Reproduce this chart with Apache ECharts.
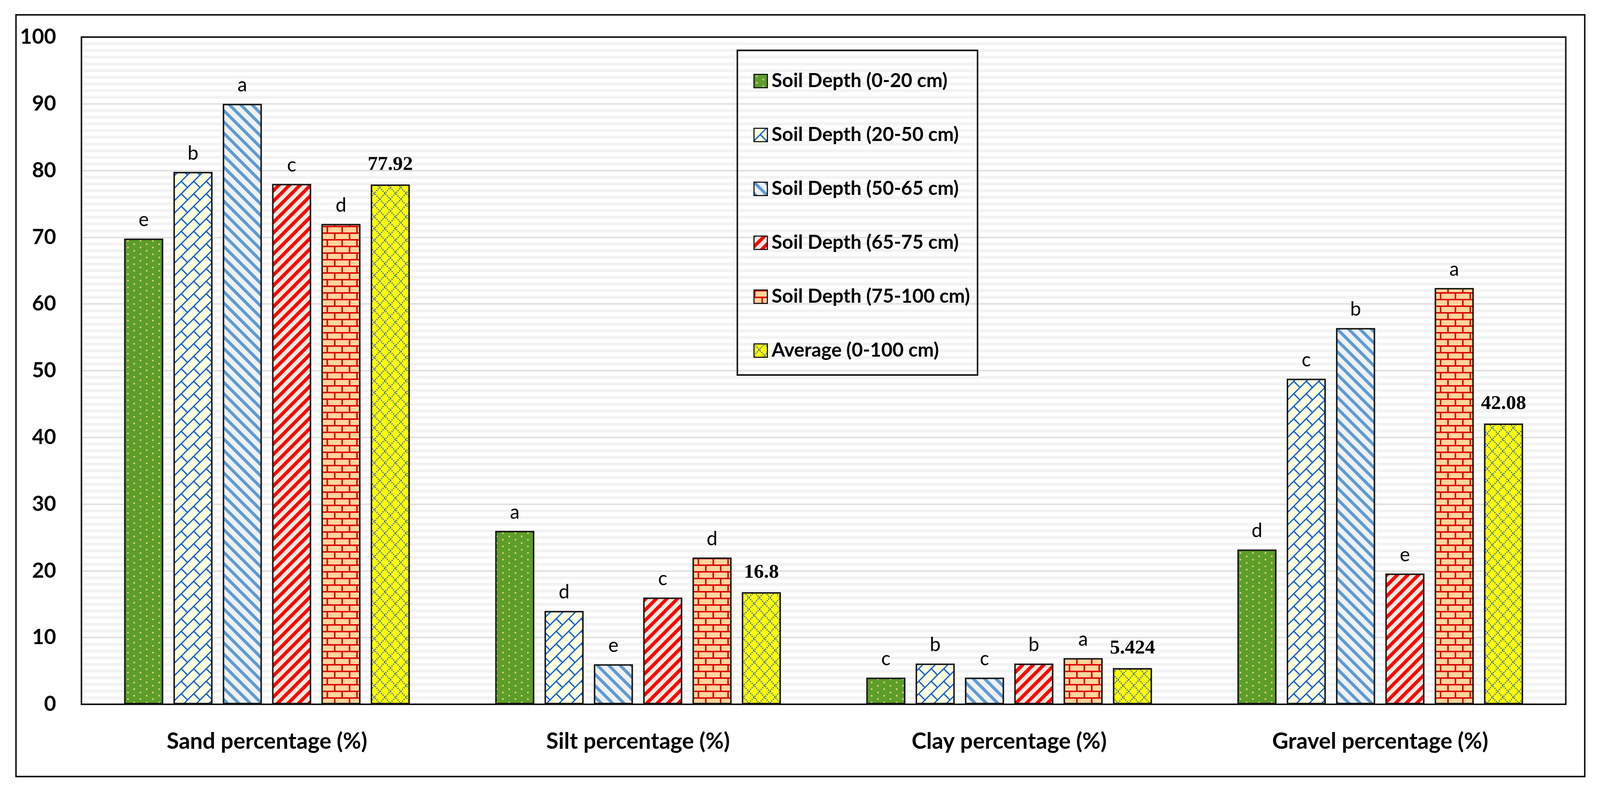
<!DOCTYPE html>
<html>
<head>
<meta charset="utf-8">
<script src="https://cdn.jsdelivr.net/npm/echarts@6/dist/echarts.min.js"></script>
<style>
html,body{margin:0;padding:0;background:#fff;overflow:hidden;}
#chart{position:absolute;left:0;top:0;}
</style>
</head>
<body>
<div id="chart"></div>
<script>
// ---- data ----
const categories = ['Sand percentage (%)', 'Silt percentage (%)', 'Clay percentage (%)', 'Gravel percentage (%)'];
const seriesNames = ['Soil Depth (0-20 cm)', 'Soil Depth (20-50 cm)', 'Soil Depth (50-65 cm)', 'Soil Depth (65-75 cm)', 'Soil Depth (75-100 cm)', 'Average (0-100 cm)'];
const depth0_20   = [69.8, 26, 4.0, 23.2];
const depth20_50  = [79.8, 14, 6.1, 48.8];
const depth50_65  = [90.0, 6, 4.0, 56.4];
const depth65_75  = [78.0, 16, 6.1, 19.6];
const depth75_100 = [72.0, 22, 6.92, 62.4];
const average     = [77.92, 16.8, 5.424, 42.08];
const letters0_20   = ['e', 'a', 'c', 'd'];
const letters20_50  = ['b', 'd', 'b', 'c'];
const letters50_65  = ['a', 'e', 'c', 'b'];
const letters65_75  = ['c', 'c', 'b', 'e'];
const letters75_100 = ['d', 'd', 'a', 'a'];
const averageLabels = ['77.92', '16.8', '5.424', '42.08'];
const yTicks = [0, 10, 20, 30, 40, 50, 60, 70, 80, 90, 100];

// ---- layout scaling to the actual viewport ----
const W = window.innerWidth || 4303, H = window.innerHeight || 2025;
const el = document.getElementById('chart');
el.style.width = W + 'px'; el.style.height = H + 'px';
const sx = W / 4303, sy = H / 2025, sf = Math.min(sx, sy);
const X = v => v * sx, Y = v => v * sy, F = v => v * sf;

// ---- patterns ----
function makePattern(w, h, draw) {
  const c = document.createElement('canvas');
  c.width = Math.max(2, Math.round(F(w))); c.height = Math.max(2, Math.round(F(h)));
  const ctx = c.getContext('2d');
  ctx.scale(c.width / w, c.height / h);
  draw(ctx, w, h);
  return { image: c, repeat: 'repeat' };
}
function diag(ctx, w, h, dir) {
  for (let k = -1; k <= 1; k++) {
    ctx.beginPath();
    if (dir === 'back') { ctx.moveTo(k * w - 4, -4 * h / w); ctx.lineTo(k * w + w + 4, h + 4 * h / w); }
    else { ctx.moveTo(k * w - 4, h + 4 * h / w); ctx.lineTo(k * w + w + 4, -4 * h / w); }
    ctx.stroke();
  }
}
const patDots = makePattern(34, 18, (ctx, w, h) => {
  ctx.fillStyle = '#5C9E28'; ctx.fillRect(0, 0, w, h);
  ctx.fillStyle = '#F8D58E';
  ctx.fillRect(6, 3, 4, 4); ctx.fillRect(23, 12, 4, 4);
});
const patShingle = makePattern(34, 34, (ctx, w, h) => {
  const s = w;
  ctx.fillStyle = '#FFFFDD'; ctx.fillRect(0, 0, s, s);
  ctx.strokeStyle = '#0B5FD8'; ctx.lineWidth = 3.5;
  diag(ctx, s, s, 'fwd');
  ctx.beginPath(); ctx.moveTo(s / 2, s / 2); ctx.lineTo(s, s); ctx.stroke();
  ctx.beginPath(); ctx.moveTo(-s / 2, s / 2); ctx.lineTo(0, s); ctx.stroke();
  ctx.beginPath(); ctx.moveTo(s / 2, -s / 2); ctx.lineTo(s, 0); ctx.stroke();
});
const patBlue = makePattern(30, 30, (ctx, w, h) => {
  ctx.fillStyle = '#F0F0F0'; ctx.fillRect(0, 0, w, h);
  ctx.strokeStyle = '#5B9BD5'; ctx.lineWidth = 8;
  diag(ctx, w, h, 'back');
});
const patRed = makePattern(28, 28, (ctx, w, h) => {
  ctx.fillStyle = '#EEECE1'; ctx.fillRect(0, 0, w, h);
  ctx.strokeStyle = '#FF0000'; ctx.lineWidth = 9;
  diag(ctx, w, h, 'fwd');
});
const patBrick = makePattern(40, 36, (ctx, w, h) => {
  ctx.fillStyle = '#FFD59B'; ctx.fillRect(0, 0, w, h);
  ctx.fillStyle = '#DD0000';
  ctx.fillRect(0, 0, w, 4); ctx.fillRect(0, 18, w, 4);
  ctx.fillRect(0, 0, 4, 18); ctx.fillRect(20, 18, 4, 18);
});
const patTrellis = makePattern(28, 32, (ctx, w, h) => {
  ctx.fillStyle = '#FFFF00'; ctx.fillRect(0, 0, w, h);
  ctx.strokeStyle = '#2B55E6'; ctx.lineWidth = 3; ctx.setLineDash([3, 3]);
  diag(ctx, w, h, 'fwd'); diag(ctx, w, h, 'back');
});

const patterns = [patDots, patShingle, patBlue, patRed, patBrick, patTrellis];
const values = [depth0_20, depth20_50, depth50_65, depth65_75, depth75_100, average];
const letterSets = [letters0_20, letters20_50, letters50_65, letters65_75, letters75_100, averageLabels];

const series = seriesNames.map((name, i) => ({
  name: name,
  type: 'bar',
  data: values[i],
  barGap: '26%',
  barCategoryGap: '23%',
  itemStyle: { color: patterns[i], borderColor: '#151515', borderWidth: F(4) },
  label: {
    show: true,
    position: 'top',
    distance: F(i === 5 ? 26 : 24),
    formatter: p => letterSets[i][p.dataIndex],
    color: '#000',
    fontFamily: i === 5 ? 'Liberation Serif' : 'Lato',
    fontWeight: i === 5 ? 'bold' : 'normal',
    fontSize: F(i === 5 ? 54 : 52)
  }
}));

const gl = 219, gr = 4211, gt = 95, gb = 1803;

const chart = echarts.init(el);
chart.setOption({
  animation: false,
  backgroundColor: '#fff',
  grid: { left: X(gl), right: X(4303 - gr), top: Y(gt), bottom: Y(2025 - gb), show: true, borderWidth: 0, backgroundColor: '#fff' },
  xAxis: {
    type: 'category',
    data: categories,
    axisLine: { show: true, lineStyle: { color: '#111', width: F(4) } },
    axisTick: { show: false },
    axisLabel: { margin: Y(67), color: '#000', fontFamily: 'Lato', fontWeight: 'bold', fontSize: F(60) }
  },
  yAxis: {
    type: 'value',
    min: yTicks[0],
    max: yTicks[yTicks.length - 1],
    interval: 10,
    axisLine: { show: false },
    axisTick: { show: false },
    axisLabel: { margin: X(68), color: '#000', fontFamily: 'Lato', fontWeight: 'bold', fontSize: F(56) },
    splitLine: { show: true, lineStyle: { color: '#e0e0e0', width: F(4) } },
    minorTick: { show: false, splitNumber: 10 },
    minorSplitLine: { show: true, lineStyle: { color: '#f3f3f3', width: F(8) } }
  },
  legend: {
    orient: 'vertical',
    left: X(2021),
    top: Y(178),
    itemWidth: F(36),
    itemHeight: F(36),
    itemGap: Y(89),
    icon: 'rect',
    itemStyle: { borderColor: '#111', borderWidth: F(3) },
    textStyle: { color: '#000', fontFamily: 'Lato', fontWeight: 'bold', fontSize: F(52), lineHeight: F(40), padding: [0, 0, 0, F(6)] },
    data: seriesNames
  },
  graphic: [
    { type: 'rect', z: 100, silent: true, shape: { x: X(43), y: Y(38), width: X(4219), height: Y(1950) }, style: { fill: null, stroke: '#111', lineWidth: F(4) } },
    { type: 'rect', z: 100, silent: true, shape: { x: X(gl), y: Y(gt), width: X(gr - gl), height: Y(gb - gt) }, style: { fill: null, stroke: '#111', lineWidth: F(4) } },
    { type: 'rect', z: 100, silent: true, shape: { x: X(1983), y: Y(129), width: X(646), height: Y(831) }, style: { fill: null, stroke: '#111', lineWidth: F(4) } }
  ],
  series: series
});
</script>
</body>
</html>
